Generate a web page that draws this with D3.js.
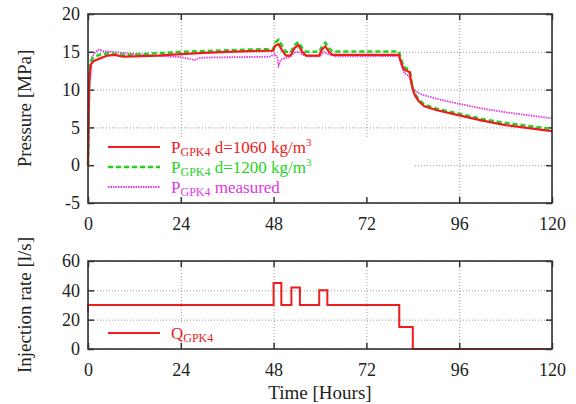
<!DOCTYPE html>
<html>
<head>
<meta charset="utf-8">
<script src="https://cdn.jsdelivr.net/npm/d3@7"></script>
<style>
  body { margin: 0; background: #fff; }
  svg { font-family: "Liberation Serif", "DejaVu Serif", serif; }
  .grid line { stroke: #999; stroke-dasharray: 1,2; }
  .grid path { display: none; }
  .ax path { display: none; }
  .ax line { stroke: #333; stroke-width: 1.5; }
  .ax text { font-size: 18px; fill: #222; font-family: "Liberation Serif", serif; }
</style>
</head>
<body>
<svg id="chart" width="576" height="404"></svg>
<script>
// ----- data -----
const hourTicks = [0, 24, 48, 72, 96, 120]
const pressureTicks = [-5, 0, 5, 10, 15, 20]
const rateTicks = [0, 20, 40, 60]

const simHours = [0, 0.3, 0.7, 1.5, 3, 5, 7, 9, 12, 18, 24, 30, 36, 42, 47.9, 48.4, 49.3, 50.2, 51.2,
                  52.4, 53.4, 54.4, 55.4, 56.4, 59.8, 60.5, 61.4, 62.3, 63.2, 70, 80.4, 81, 81.6, 83.2,
                  83.6, 84, 84.6, 85.5, 87, 90, 96, 102, 108, 114, 120]
const pressure1060 = [0, 11, 13.3, 13.8, 14.1, 14.5, 14.6, 14.35, 14.4, 14.5, 14.7, 14.85, 15.0, 15.1, 15.15, 15.8, 16.0, 15.2, 14.5,
                      14.5, 15.5, 15.9, 15.0, 14.5, 14.5, 15.3, 15.7, 15.0, 14.6, 14.6, 14.6, 13.6, 12.7, 12.3,
                      11.0, 10.0, 9.2, 8.5, 7.8, 7.3, 6.6, 5.9, 5.3, 4.9, 4.5]
const pressure1200 = [0, 11.5, 13.8, 14.3, 14.6, 14.8, 14.7, 14.6, 14.65, 14.8, 15.0, 15.1, 15.2, 15.3, 15.35, 16.2, 16.6, 15.8, 15.0,
                      14.9, 15.9, 16.3, 15.5, 15.0, 15.0, 15.7, 16.2, 15.5, 15.05, 15.05, 15.05, 14.0, 13.0, 12.6,
                      11.3, 10.2, 9.4, 8.7, 8.0, 7.5, 6.8, 6.1, 5.6, 5.2, 4.8]

const measuredHours = [0, 0.4, 1, 2, 2.8, 4, 6, 10, 15, 20, 24, 26, 27.5, 29, 32, 40, 47, 48.3, 48.9, 49.3, 49.8,
                       50.5, 52, 53.5, 54.5, 55.5, 57, 60, 61, 62, 64, 70, 80.3, 81, 81.8, 83, 83.5, 84.2, 86,
                       90, 96, 102, 108, 114, 120]
const pressureMeasured = [0, 10, 14.3, 15.0, 15.3, 15.1, 15.0, 14.8, 14.6, 14.4, 14.3, 14.1, 13.9, 14.2, 14.25, 14.3, 14.35, 14.7, 14.3, 13.2, 13.9,
                          14.1, 14.3, 14.9, 15.0, 14.6, 14.4, 14.4, 15.0, 14.7, 14.4, 14.4, 14.45, 13.3, 12.2, 11.8, 11.0, 10.0, 9.4,
                          8.8, 8.1, 7.5, 7.0, 6.6, 6.2]

const rateHours = [0, 0, 48, 50, 52.6, 54.8, 59.8, 61.9, 80.5, 84, 120]
const injectionRate = [25, 30, 45, 30, 42, 30, 40, 30, 15, 0, 0]

// ----- layout -----
const svg = d3.select("svg#chart")
const red = "#ee1c1c", green = "#1ed41e", magenta = "#e03ae0"

const x = d3.scaleLinear().domain([0, 120]).range([88, 552])
const yP = d3.scaleLinear().domain([-5, 20]).range([203, 14])
const yQ = d3.scaleLinear().domain([0, 60]).range([349, 261])
const plain = d => String(d)

function panel(y, yTicks, legendBox){
    const [bottom, top] = y.range()
    const g = svg.append("g")

    // dotted grid
    g.append("g").attr("class", "grid")
        .attr("transform", `translate(0,${bottom})`)
        .call(d3.axisBottom(x).tickValues(hourTicks).tickSize(-(bottom - top)).tickFormat(""))
    g.append("g").attr("class", "grid")
        .attr("transform", `translate(${x(0)},0)`)
        .call(d3.axisLeft(y).tickValues(yTicks).tickSize(-(x(120) - x(0))).tickFormat(""))

    // opaque key area
    g.append("rect")
        .attr("x", legendBox[0]).attr("y", legendBox[1])
        .attr("width", legendBox[2]).attr("height", legendBox[3])
        .attr("fill", "#fff")

    // inward ticks with labels, mirrored on top/right
    g.append("g").attr("class", "ax")
        .attr("transform", `translate(0,${bottom})`)
        .call(d3.axisBottom(x).tickValues(hourTicks).tickSize(-6).tickPadding(14).tickFormat(plain))
    g.append("g").attr("class", "ax")
        .attr("transform", `translate(0,${top})`)
        .call(d3.axisTop(x).tickValues(hourTicks).tickSize(-6).tickFormat(""))
    g.append("g").attr("class", "ax")
        .attr("transform", `translate(${x(0)},0)`)
        .call(d3.axisLeft(y).tickValues(yTicks).tickSize(-6).tickPadding(8).tickFormat(plain))
    g.append("g").attr("class", "ax")
        .attr("transform", `translate(${x(120)},0)`)
        .call(d3.axisRight(y).tickValues(yTicks).tickSize(-6).tickFormat(""))
    return g
}

const gP = panel(yP, pressureTicks, [90, 139, 323, 63])
const gQ = panel(yQ, rateTicks, [90, 323, 125, 24])

// ----- pressure curves -----
const lineP = d3.line().x(d => x(d[0])).y(d => yP(d[1]))
gP.append("path")
    .attr("d", lineP(d3.zip(measuredHours, pressureMeasured)))
    .attr("fill", "none").attr("stroke", magenta).attr("stroke-width", 1.8)
    .attr("stroke-dasharray", "1.5,1")
gP.append("path")
    .attr("d", lineP(d3.zip(simHours, pressure1200)))
    .attr("fill", "none").attr("stroke", green).attr("stroke-width", 2.5)
    .attr("stroke-dasharray", "5,3")
gP.append("path")
    .attr("d", lineP(d3.zip(simHours, pressure1060)))
    .attr("fill", "none").attr("stroke", red).attr("stroke-width", 2.2)

// ----- injection rate -----
const lineQ = d3.line().x(d => x(d[0])).y(d => yQ(d[1])).curve(d3.curveStepAfter)
gQ.append("path")
    .attr("d", lineQ(d3.zip(rateHours, injectionRate)))
    .attr("fill", "none").attr("stroke", red).attr("stroke-width", 2)

// ----- frames -----
for (const y of [yP, yQ]) {
    svg.append("rect")
        .attr("x", x(0)).attr("y", y.range()[1])
        .attr("width", x(120) - x(0)).attr("height", y.range()[0] - y.range()[1])
        .attr("fill", "none").attr("stroke", "#333").attr("stroke-width", 1.6)
}

// ----- legends -----
function key(g, ly, color, dash, width, main, sub, rest, sup){
    g.append("line")
        .attr("x1", 108).attr("x2", 160).attr("y1", ly).attr("y2", ly)
        .attr("stroke", color).attr("stroke-width", width)
        .attr("stroke-dasharray", dash)
    const t = g.append("text").attr("x", 171).attr("y", ly + 6)
        .attr("fill", color).attr("font-size", 17)
    t.append("tspan").text(main)
    t.append("tspan").attr("dy", 3).attr("font-size", 12).text(sub)
    if (rest) t.append("tspan").attr("dy", -3).text(rest)
    if (sup) t.append("tspan").attr("dy", -7).attr("font-size", 11).text(sup)
}
key(gP, 147, red, null, 2.2, "P", "GPK4", " d=1060 kg/m", "3")
key(gP, 167, green, "5,3", 2.5, "P", "GPK4", " d=1200 kg/m", "3")
key(gP, 187, magenta, "1.5,1", 1.8, "P", "GPK4", " measured", null)
key(gQ, 333, red, null, 2, "Q", "GPK4", null, null)

// ----- axis titles -----
svg.append("text")
    .attr("transform", `translate(31,${(yP.range()[0] + yP.range()[1]) / 2}) rotate(-90)`)
    .attr("text-anchor", "middle").attr("font-size", 19).attr("fill", "#222")
    .text("Pressure [MPa]")
svg.append("text")
    .attr("transform", `translate(31,${(yQ.range()[0] + yQ.range()[1]) / 2}) rotate(-90)`)
    .attr("text-anchor", "middle").attr("font-size", 19).attr("fill", "#222")
    .text("Injection rate [l/s]")
svg.append("text")
    .attr("x", (x(0) + x(120)) / 2).attr("y", 399)
    .attr("text-anchor", "middle").attr("font-size", 19).attr("fill", "#222")
    .text("Time [Hours]")
</script>
</body>
</html>
